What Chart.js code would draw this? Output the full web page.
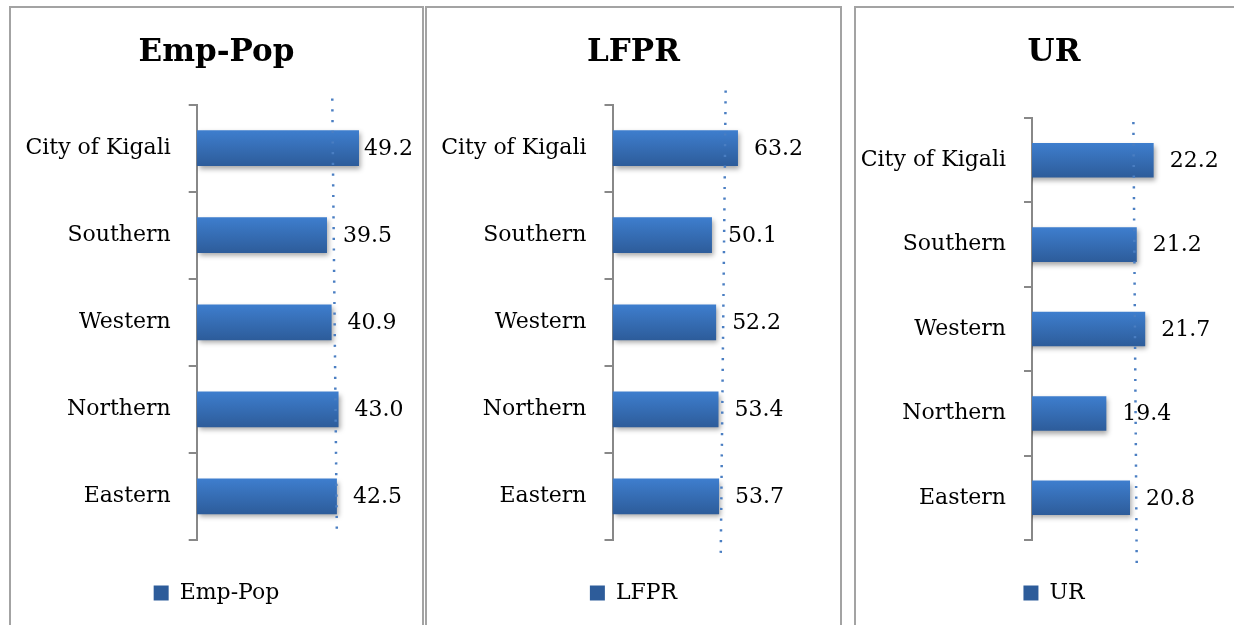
<!DOCTYPE html>
<html><head><meta charset="utf-8">
<script src="https://cdn.jsdelivr.net/npm/chart.js@4"></script>
<style>
html,body{margin:0;padding:0;background:#fff;overflow:hidden;width:1234px;height:625px;position:relative;}
.panel{position:absolute;box-sizing:border-box;border:2px solid #a3a3a3;background:#fff;overflow:hidden;}
.panel canvas{position:absolute;left:0;top:0;}
</style></head><body>
<div class="panel" style="left:9px;top:6px;width:415px;height:650px"><canvas id="c1" width="411" height="617"></canvas></div>
<div class="panel" style="left:425px;top:6px;width:417px;height:650px"><canvas id="c2" width="413" height="617"></canvas></div>
<div class="panel" style="left:854px;top:6px;width:420px;height:650px"><canvas id="c3" width="396" height="617"></canvas></div>
<script>
// ---- data ----
const regions = ['City of Kigali', 'Southern', 'Western', 'Northern', 'Eastern'];
const empPop = [49.2, 39.5, 40.9, 43.0, 42.5];
const lfpr   = [63.2, 50.1, 52.2, 53.4, 53.7];
const ur     = [22.2, 21.2, 21.7, 19.4, 20.8];
// dotted reference line values (top end, bottom end)
const empPopRef = [41.1, 42.5];
const lfprRef   = [57.0, 54.5];
const urRef     = [21.0, 21.2];

Chart.defaults.font.family = '"DejaVu Serif", serif';
Chart.defaults.color = '#000';
const BAR_PCT = 0.41;

function barFill(ctx) {
  const chart = ctx.chart, ys = chart.scales && chart.scales.y;
  if (ctx.type !== 'data' || !ys || !chart.chartArea) return '#3569AF';
  const c = ys.getPixelForValue(ctx.dataIndex);
  const half = Math.abs(ys.getPixelForValue(1) - ys.getPixelForValue(0)) * BAR_PCT / 2;
  const g = chart.ctx.createLinearGradient(0, c - half, 0, c + half);
  g.addColorStop(0, '#3E7ECE');
  g.addColorStop(1, '#2D5C9A');
  return g;
}

const shadowPlugin = {
  id: 'barShadow',
  beforeDatasetDraw(chart, args) {
    if (args.meta.type !== 'bar') return;
    const c = chart.ctx; c.save();
    c.shadowColor = 'rgba(0,0,0,0.35)'; c.shadowBlur = 5; c.shadowOffsetX = 2; c.shadowOffsetY = 3;
  },
  afterDatasetDraw(chart, args) {
    if (args.meta.type !== 'bar') return;
    chart.ctx.restore();
  }
};

// dotted reference line, positioned with the x scale
const refLine = {
  id: 'refLine',
  afterDatasetsDraw(chart, args, opts) {
    const xs = chart.scales.x, area = chart.chartArea, c = chart.ctx;
    const x1 = xs.getPixelForValue(opts.values[0]);
    const x2 = xs.getPixelForValue(opts.values[1]);
    c.save();
    c.strokeStyle = '#4A7EC2'; c.lineWidth = 2.5; c.setLineDash([2.2, 8.5]); c.lineCap = 'butt';
    c.beginPath();
    c.moveTo(x1, area.top + opts.topExt);
    c.lineTo(x2, area.bottom + opts.bottomExt);
    c.stroke();
    c.restore();
  }
};

const valueLabels = {
  id: 'valueLabels',
  afterDatasetsDraw(chart) {
    const meta = chart.getDatasetMeta(0), ds = chart.data.datasets[0], c = chart.ctx;
    c.save();
    c.font = '22px "DejaVu Serif"'; c.fillStyle = '#000'; c.textBaseline = 'middle'; c.textAlign = 'left';
    meta.data.forEach((el, i) => {
      const t = ds.data[i].toFixed(1), w = c.measureText(t).width;
      let x = el.x + 16;
      if (x + w > chart.width - 9) x = chart.width - 9 - w;
      c.fillText(t, x, el.y + 1);
    });
    c.restore();
  }
};

function makeChart(id, p) {
  return new Chart(document.getElementById(id), {
    type: 'bar',
    data: {
      labels: regions,
      datasets: [
        { label: p.title, data: p.values, backgroundColor: barFill, borderWidth: 0,
          categoryPercentage: 1, barPercentage: BAR_PCT, grouped: false }
      ]
    },
    options: {
      indexAxis: 'y', responsive: false, animation: false,
      layout: { padding: { left: 0, right: 0, top: 0, bottom: 11 } },
      scales: {
        x: { type: 'linear', display: false, min: p.xmin, max: p.xmax },
        y: { type: 'category', position: 'left', offset: true,
             border: { display: true, color: '#888', width: 2 },
             grid: { display: true, drawOnChartArea: false, drawTicks: true, tickLength: 8, color: '#888', lineWidth: 2, offset: true },
             ticks: { color: '#000', font: { size: 22 }, padding: 18 },
             afterFit: s => { s.width = p.axisX; } }
      },
      plugins: {
        title: { display: true, text: p.title, color: '#000',
                 font: { size: 31, weight: 'bold' }, padding: { top: 26, bottom: p.titlePadBottom } },
        legend: { position: 'bottom',
                  labels: { boxWidth: 15, boxHeight: 15, padding: 42, color: '#000', font: { size: 22 } } },
        tooltip: { enabled: false },
        refLine: { values: p.ref, topExt: p.topExt, bottomExt: p.bottomExt }
      }
    },
    plugins: [shadowPlugin, refLine, valueLabels]
  });
}

makeChart('c1', { title: 'Emp-Pop', values: empPop, ref: empPopRef, xmin: 0, xmax: 68.3,
  axisX: 185.7, titlePadBottom: 33.4, topExt: -6, bottomExt: -3 });
makeChart('c2', { title: 'LFPR', values: lfpr, ref: lfprRef, xmin: 0, xmax: 114.6,
  axisX: 185.5, titlePadBottom: 33.4, topExt: -14, bottomExt: 20 });
makeChart('c3', { title: 'UR', values: ur, ref: urRef, xmin: 15, xmax: 28.02,
  axisX: 176, titlePadBottom: 46.9, topExt: 4, bottomExt: 30 });
</script>
</body></html>
